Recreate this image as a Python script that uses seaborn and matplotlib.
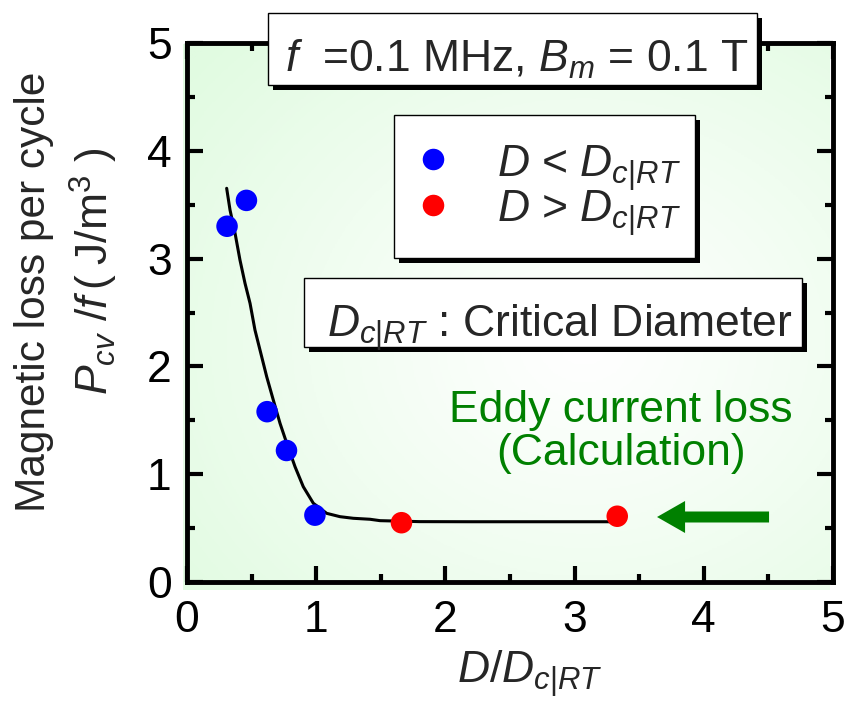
import numpy as np
import pandas as pd
import matplotlib
matplotlib.use("Agg")
import matplotlib.pyplot as plt
import seaborn as sns
from matplotlib.patches import Rectangle
from matplotlib.lines import Line2D
from matplotlib.ticker import MultipleLocator
from matplotlib.colors import LinearSegmentedColormap

# Measured loss per cycle, particles smaller than the critical diameter
ratio_below = [0.31, 0.46, 0.62, 0.77, 0.99]
loss_below = [3.30, 3.54, 1.58, 1.22, 0.62]
# Measured loss per cycle, particles larger than the critical diameter
ratio_above = [1.66, 3.33]
loss_above = [0.55, 0.61]

# Calculated eddy current loss curve
calc_ratio = [0.307, 0.333, 0.372, 0.410, 0.449, 0.488, 0.526, 0.565, 0.617,
              0.668, 0.720, 0.772, 0.836, 0.900, 0.978, 1.081, 1.184, 1.287,
              1.416, 1.494, 1.80, 2.20, 2.60, 3.00, 3.33]
calc_loss = [3.652, 3.451, 3.235, 2.987, 2.771, 2.585, 2.338, 2.152, 1.904,
             1.688, 1.472, 1.287, 1.070, 0.884, 0.730, 0.637, 0.606, 0.591,
             0.582, 0.569, 0.560, 0.559, 0.559, 0.559, 0.559]

x_ticks = [0, 1, 2, 3, 4, 5]
y_ticks = [0, 1, 2, 3, 4, 5]

sns.set_theme(style="ticks")
plt.rcParams["font.family"] = ["Liberation Sans", "DejaVu Sans"]
plt.rcParams["mathtext.fontset"] = "custom"
plt.rcParams["mathtext.rm"] = "Liberation Sans"
plt.rcParams["mathtext.it"] = "Liberation Sans:italic"
plt.rcParams["mathtext.bf"] = "Liberation Sans:bold"

FS = 32
W, H = 846, 704
fig = plt.figure(figsize=(W / 100, H / 100), dpi=100)


def fx(px):
    return px / W


def fy(py):
    return 1 - py / H


# soft green radial backdrop behind the plotting area
bg = fig.add_axes([fx(183), fy(590), fx(829) - fx(183), fy(44) - fy(590)])
bg.set_axis_off()
yy, xx = np.mgrid[0:1:300j, 0:1:400j]
r = np.hypot((xx - 0.62) / 0.8, (yy - 0.45) / 0.8)
shade = np.clip(r, 0, 1) ** 1.1
green_fade = LinearSegmentedColormap.from_list("fade", ["#ffffff", "#e1fbe1"])
bg.imshow(shade, cmap=green_fade, extent=[0, 1, 0, 1], origin="lower",
          aspect="auto", vmin=0, vmax=1)
bg.set_xlim(0, 1)
bg.set_ylim(0, 1)

ax = fig.add_axes([fx(187), fy(582), fx(833) - fx(187), fy(43) - fy(582)])
ax.patch.set_alpha(0)

calc = pd.DataFrame({"ratio": calc_ratio, "loss": calc_loss})
sns.lineplot(data=calc, x="ratio", y="loss", sort=False, estimator=None,
             color="black", lw=2.2, ax=ax, zorder=2)

pts = pd.DataFrame({
    "ratio": ratio_below + ratio_above,
    "loss": loss_below + loss_above,
    "group": ["below"] * len(ratio_below) + ["above"] * len(ratio_above),
})
sns.scatterplot(data=pts, x="ratio", y="loss", hue="group",
                palette={"below": "#0000ff", "above": "#ff0000"},
                s=240, edgecolor="none", linewidth=0, legend=False,
                ax=ax, zorder=3)

ax.set_xlim(0, 5)
ax.set_ylim(0, 5)
ax.set_xticks(x_ticks)
ax.set_yticks(y_ticks)
ax.xaxis.set_minor_locator(MultipleLocator(0.5))
ax.yaxis.set_minor_locator(MultipleLocator(0.5))
ax.tick_params(which="both", direction="in", top=True, right=True,
               width=3, color="black", labelsize=FS, labelcolor="black")
ax.tick_params(which="major", length=11.5)
ax.tick_params(which="minor", length=5.5)
ax.tick_params(axis="x", pad=13)
ax.tick_params(axis="y", pad=11)
for sp in ax.spines.values():
    sp.set_linewidth(3.5)
    sp.set_color("black")
ax.set_xlabel("")
ax.set_ylabel("")

# axis titles
fig.text(fx(530), fy(683), r"$D/D_{c|RT}$", ha="center", va="baseline",
         fontsize=FS)
fig.text(fx(34), fy(292), "Magnetic loss per cycle", rotation=90,
         ha="center", va="center", fontsize=30.5)
fig.text(fx(94), fy(271), r"$P_{cv}\ /f\,(\;\mathrm{J/m}^{3}\ )$", rotation=90,
         ha="center", va="center", fontsize=FS)


def framed(x0, y0, x1, y1, off=5):
    w = fx(x1) - fx(x0)
    h = fy(y0) - fy(y1)
    fig.add_artist(Rectangle((fx(x0 + off), fy(y1 + off)), w, h,
                             transform=fig.transFigure, facecolor="black",
                             edgecolor="none", zorder=5))
    fig.add_artist(Rectangle((fx(x0), fy(y1)), w, h,
                             transform=fig.transFigure, facecolor="white",
                             edgecolor="black", lw=1.0, zorder=6))


# condition box
framed(268, 13, 757, 85)
fig.text(fx(517), fy(72), r"$f$  =0.1 MHz, $B_m$ = 0.1 T", ha="center",
         va="baseline", fontsize=FS, zorder=7)

# key
framed(394, 115, 695, 258)
fig.add_artist(Line2D([fx(433)], [fy(159)], marker="o", ms=15.5, color="#0000ff",
                      mec="none", transform=fig.transFigure, zorder=7))
fig.add_artist(Line2D([fx(433)], [fy(205)], marker="o", ms=15.5, color="#ff0000",
                      mec="none", transform=fig.transFigure, zorder=7))
fig.text(fx(497), fy(177), r"$D$ < $D_{c|RT}$", ha="left", va="baseline",
         fontsize=FS, zorder=7)
fig.text(fx(497), fy(222), r"$D$ > $D_{c|RT}$", ha="left", va="baseline",
         fontsize=FS, zorder=7)

# definition box
framed(304, 278, 802, 347)
fig.text(fx(327), fy(337), r"$D_{c|RT}$ : Critical Diameter", ha="left",
         va="baseline", fontsize=FS, zorder=7)

# calculation note with arrow
fig.text(fx(621), fy(422), "Eddy current loss", ha="center", va="baseline",
         fontsize=FS, color="#008000")
fig.text(fx(621), fy(465), "(Calculation)", ha="center", va="baseline",
         fontsize=FS, color="#008000")
ax.arrow(4.505, 0.603, -0.867, 0, width=0.102, head_width=0.297,
         head_length=0.217, length_includes_head=True, color="#008000",
         lw=0, zorder=4)

fig.savefig("out.png", dpi=100)
